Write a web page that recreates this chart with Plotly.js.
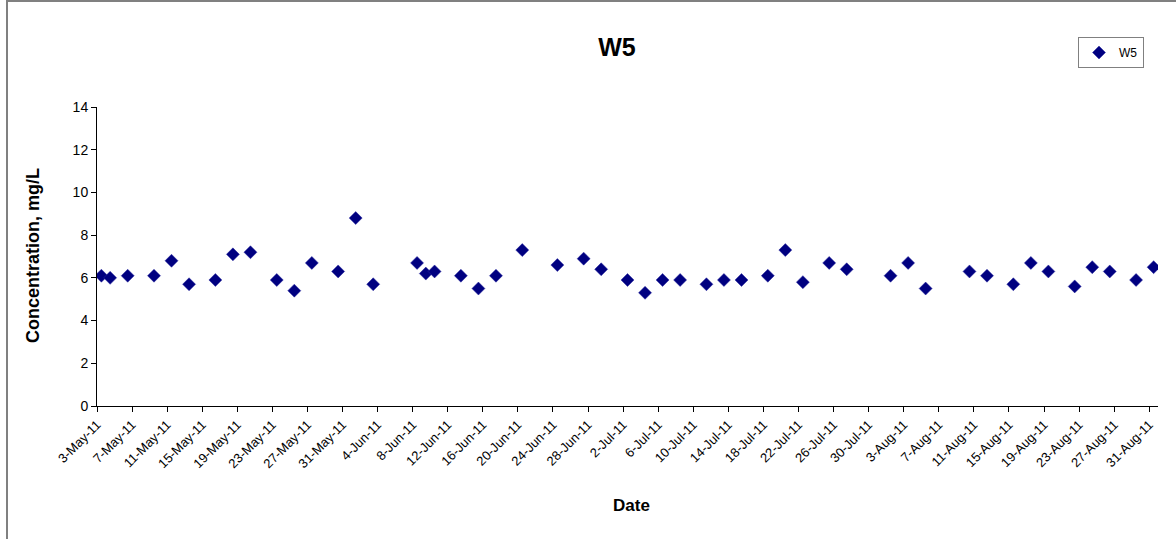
<!DOCTYPE html>
<html>
<head>
<meta charset="utf-8">
<script src="https://cdn.plot.ly/plotly-3.0.1.min.js"></script>
<style>
  html, body { margin: 0; padding: 0; background: #fff; }
  #wrap { position: relative; width: 1176px; height: 539px; }
  #chart { width: 1176px; height: 539px; }
  #frame { position: absolute; left: 6px; top: 0px; width: 1170px; height: 539px;
           border-left: 2px solid #808080; border-top: 2px solid #808080; box-sizing: border-box; pointer-events: none; }
</style>
</head>
<body>
<div id="wrap">
  <div id="chart"></div>
  <div id="frame"></div>
</div>
<script>
const seriesName = 'W5';
const dates = [
  '2011-05-03','2011-05-04','2011-05-06','2011-05-09','2011-05-11','2011-05-13','2011-05-16','2011-05-18',
  '2011-05-20','2011-05-23','2011-05-25','2011-05-27','2011-05-30','2011-06-01','2011-06-03','2011-06-08',
  '2011-06-09','2011-06-10','2011-06-13','2011-06-15','2011-06-17','2011-06-20','2011-06-24','2011-06-27',
  '2011-06-29','2011-07-02','2011-07-04','2011-07-06','2011-07-08','2011-07-11','2011-07-13','2011-07-15',
  '2011-07-18','2011-07-20','2011-07-22','2011-07-25','2011-07-27','2011-08-01','2011-08-03','2011-08-05',
  '2011-08-10','2011-08-12','2011-08-15','2011-08-17','2011-08-19','2011-08-22','2011-08-24','2011-08-26',
  '2011-08-29','2011-08-31'
];
const concentration = [
  6.1, 6.0, 6.1, 6.1, 6.8, 5.7, 5.9, 7.1,
  7.2, 5.9, 5.4, 6.7, 6.3, 8.8, 5.7, 6.7,
  6.2, 6.3, 6.1, 5.5, 6.1, 7.3, 6.6, 6.9,
  6.4, 5.9, 5.3, 5.9, 5.9, 5.7, 5.9, 5.9,
  6.1, 7.3, 5.8, 6.7, 6.4, 6.1, 6.7, 5.5,
  6.3, 6.1, 5.7, 6.7, 6.3, 5.6, 6.5, 6.3,
  5.9, 6.5
];
const chartTitle = 'W5';
const xTitle = 'Date';
const yTitle = 'Concentration, mg/L';

// Excel date axis centres each day between tick marks: plot at mid-day
const xMid = dates.map(d => d + ' 12:00');

const FONT = '"Liberation Sans", Arial, sans-serif';
const L = 97, R = 18, T = 107, B = 133, W = 1176, H = 539;
const pw = W - L - R, ph = H - T - B;

const trace = {
  x: xMid, y: concentration, name: seriesName, type: 'scatter', mode: 'markers',
  marker: { symbol: 'diamond', size: 10, color: '#000080', line: { width: 0.5, color: '#2a2aa0' } },
  showlegend: true
};

const layout = {
  width: W, height: H,
  margin: { l: L, r: R, t: T, b: B, pad: 0 },
  paper_bgcolor: '#ffffff', plot_bgcolor: '#ffffff',
  font: { family: FONT, color: '#000' },
  title: { text: '<b>' + chartTitle + '</b>', font: { family: FONT, size: 25, color: '#000' },
           xref: 'container', yref: 'container', x: 617 / W, y: 1 - 47 / H, xanchor: 'center', yanchor: 'middle' },
  xaxis: {
    type: 'date', range: ['2011-05-03', '2011-09-01'],
    tick0: '2011-05-03', dtick: 4 * 86400000, tickformat: '%-d-%b-%y', tickangle: -45,
    ticks: 'outside', ticklen: 5, tickcolor: '#000', tickwidth: 1,
    showline: true, linecolor: '#000', linewidth: 1, showgrid: false, zeroline: false,
    tickfont: { family: FONT, size: 13, color: '#000' }, automargin: false, fixedrange: true
  },
  yaxis: {
    range: [0, 14], dtick: 2, tick0: 0,
    ticks: 'outside', ticklen: 5, tickcolor: '#000', tickwidth: 1,
    showline: true, linecolor: '#000', linewidth: 1, showgrid: false, zeroline: false,
    tickfont: { family: FONT, size: 14, color: '#000' }, automargin: false, fixedrange: true
  },
  legend: {
    x: (1078 - L) / pw, y: (T + ph - 37) / ph, xanchor: 'left', yanchor: 'top',
    bordercolor: '#808080', borderwidth: 1, bgcolor: '#fff',
    font: { family: FONT, size: 12, color: '#000' }, itemwidth: 30, tracegroupgap: 0
  },
  annotations: [
    { text: '<b>' + yTitle + '</b>', xref: 'paper', yref: 'paper', x: (33 - L) / pw, y: (T + ph - 256) / ph,
      xanchor: 'center', yanchor: 'middle', textangle: -90, showarrow: false,
      font: { family: FONT, size: 18, color: '#000' } },
    { text: '<b>' + xTitle + '</b>', xref: 'paper', yref: 'paper', x: (631 - L) / pw, y: (T + ph - 505) / ph,
      xanchor: 'center', yanchor: 'middle', showarrow: false,
      font: { family: FONT, size: 17, color: '#000' } }
  ]
};

Plotly.newPlot('chart', [trace], layout, { displayModeBar: false, staticPlot: true });
</script>
</body>
</html>
